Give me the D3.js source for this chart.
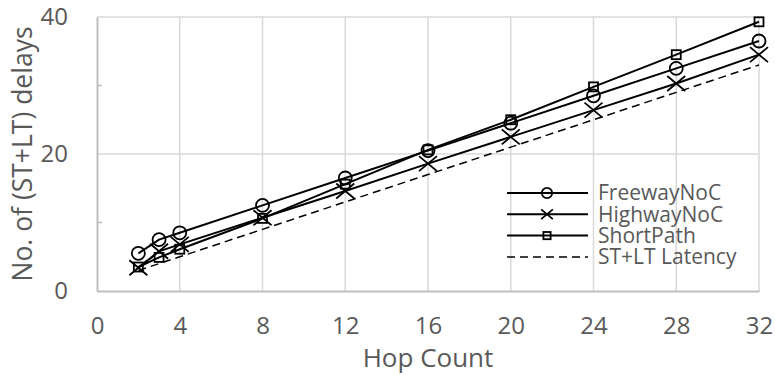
<!DOCTYPE html>
<html>
<head>
<meta charset="utf-8">
<script src="https://d3js.org/d3.v7.min.js"></script>
<style>
  body { margin: 0; background: #fff; }
  svg { display: block; font-family: "Open Sans", sans-serif; }
</style>
</head>
<body>
<div id="chart"></div>
<script>
// Data
const hops = [2, 3, 4, 8, 12, 16, 20, 24, 28, 32];
const freeway = [5.5, 7.5, 8.5, 12.5, 16.5, 20.5, 24.5, 28.5, 32.5, 36.5];
const highway = [3.4, 5.8, 6.8, 10.7, 14.6, 18.6, 22.5, 26.4, 30.3, 34.5];
const shortPath = [3.5, 4.9, 6.1, 10.6, 15.6, 20.6, 25.0, 29.8, 34.5, 39.3];
const stltLatency = [3, 4, 5, 9, 13, 17, 21, 25, 29, 33];
const seriesNames = ['FreewayNoC', 'HighwayNoC', 'ShortPath', 'ST+LT Latency'];
const xTicks = [0, 4, 8, 12, 16, 20, 24, 28, 32];
const yTicks = [0, 20, 40];
const yMinorTicks = [10, 30];

const width = 775, height = 375;
const margin = { top: 17, right: 16, bottom: 84, left: 97 };
const plotW = width - margin.left - margin.right;
const plotH = height - margin.top - margin.bottom;
const textColor = '#595959';

const svg = d3.select('#chart').append('svg')
  .attr('width', width)
  .attr('height', height);

const x = d3.scaleLinear().domain([0, 32]).range([0, plotW]);
const y = d3.scaleLinear().domain([0, 40]).range([plotH, 0]);

const g = svg.append('g')
  .attr('transform', `translate(${margin.left},${margin.top})`);

// Gridlines
g.selectAll('.vgrid')
  .data(xTicks.filter(d => d > 0))
  .enter().append('line')
  .attr('x1', d => x(d)).attr('x2', d => x(d))
  .attr('y1', 0).attr('y2', plotH)
  .style('stroke', '#d9d9d9').style('stroke-width', 1.5);

g.selectAll('.hgrid')
  .data(yTicks.filter(d => d > 0))
  .enter().append('line')
  .attr('x1', 0).attr('x2', plotW)
  .attr('y1', d => y(d)).attr('y2', d => y(d))
  .style('stroke', '#d9d9d9').style('stroke-width', 1.5);

// Axes
const xAxis = g.append('g')
  .attr('transform', `translate(0,${plotH})`)
  .call(d3.axisBottom(x).tickValues(xTicks).tickSize(0).tickPadding(26));
const yAxis = g.append('g')
  .call(d3.axisLeft(y).tickValues(yTicks).tickSize(0).tickPadding(29));

[xAxis, yAxis].forEach(a => {
  a.select('.domain').style('stroke', '#bfbfbf').style('stroke-width', 2);
  a.selectAll('text')
    .style('font-size', '24px')
    .style('fill', textColor)
    .style('font-family', '"Open Sans", sans-serif');
});

// Minor ticks on the value axis
g.selectAll('.minor')
  .data(yMinorTicks)
  .enter().append('line')
  .attr('x1', 0).attr('x2', 5)
  .attr('y1', d => y(d)).attr('y2', d => y(d))
  .style('stroke', '#bfbfbf').style('stroke-width', 1.5);

// Axis titles
svg.append('text')
  .attr('x', margin.left + plotW / 2)
  .attr('y', 367)
  .attr('text-anchor', 'middle')
  .style('font-size', '26px')
  .style('fill', textColor)
  .text('Hop Count');

svg.append('text')
  .attr('transform', 'rotate(-90)')
  .attr('x', -(margin.top + plotH / 2))
  .attr('y', 32)
  .attr('text-anchor', 'middle')
  .style('font-size', '26.5px')
  .style('fill', textColor)
  .text('No. of (ST+LT) delays');

// Series
const series = [
  { name: seriesNames[0], values: freeway, marker: 'circle', dash: null },
  { name: seriesNames[1], values: highway, marker: 'x', dash: null },
  { name: seriesNames[2], values: shortPath, marker: 'square', dash: null },
  { name: seriesNames[3], values: stltLatency, marker: null, dash: '8,5' }
];

const line = d3.line()
  .x(d => x(d[0]))
  .y(d => y(d[1]));

function drawMarker(sel, type, cx, cy, s) {
  if (type === 'circle') {
    sel.append('circle')
      .attr('cx', cx).attr('cy', cy).attr('r', 6.5 * s)
      .style('fill', 'none').style('stroke', '#000').style('stroke-width', 1.8);
  } else if (type === 'square') {
    sel.append('rect')
      .attr('x', cx - 4.5 * s).attr('y', cy - 4.5 * s)
      .attr('width', 9 * s).attr('height', 9 * s)
      .style('fill', 'none').style('stroke', '#000').style('stroke-width', 1.8);
  } else if (type === 'x') {
    const hw = 9 * s, hh = 7.5 * s;
    sel.append('path')
      .attr('d', `M${cx - hw},${cy - hh}L${cx + hw},${cy + hh}M${cx - hw},${cy + hh}L${cx + hw},${cy - hh}`)
      .style('fill', 'none').style('stroke', '#000').style('stroke-width', 1.8);
  }
}

series.forEach(s => {
  const pts = hops.map((h, i) => [h, s.values[i]]);
  g.append('path')
    .datum(pts)
    .attr('d', line)
    .style('fill', 'none')
    .style('stroke', '#000')
    .style('stroke-width', s.dash ? 1.5 : 2)
    .style('stroke-dasharray', s.dash);
  if (s.marker) {
    const mg = g.append('g');
    pts.forEach(p => drawMarker(mg, s.marker, x(p[0]), y(p[1]), 1));
  }
});

// Legend
const legend = svg.append('g').attr('transform', 'translate(507,193)');
series.forEach((s, i) => {
  const row = legend.append('g').attr('transform', `translate(0,${i * 21.3})`);
  row.append('line')
    .attr('x1', 0).attr('x2', 81)
    .attr('y1', 0).attr('y2', 0)
    .style('stroke', '#000')
    .style('stroke-width', s.dash ? 1.5 : 2)
    .style('stroke-dasharray', s.dash);
  if (s.marker) drawMarker(row, s.marker, 40, 0, s.marker === 'x' ? 0.65 : 0.8);
  row.append('text')
    .attr('x', 91)
    .attr('y', 0)
    .attr('dy', '0.35em')
    .style('font-size', '21px')
    .style('fill', textColor)
    .text(s.name);
});
</script>
</body>
</html>
